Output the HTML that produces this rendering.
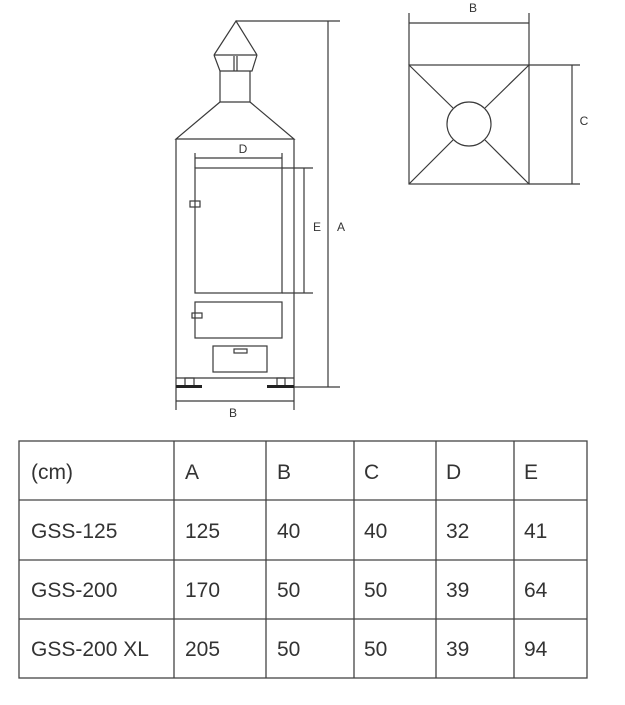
<!DOCTYPE html>
<html><head><meta charset="utf-8"><style>
html,body{margin:0;padding:0;background:#fff;width:625px;height:705px;overflow:hidden}
svg{display:block}
text{font-family:"Liberation Sans",sans-serif;fill:#333}
</style></head><body>
<svg width="625" height="705" viewBox="0 0 625 705" xmlns="http://www.w3.org/2000/svg">
<g stroke="#3a3a3a" stroke-width="1.2" fill="none">
<!-- chimney cap -->
<polyline points="214,55 236,21 257,55"/>
<line x1="214" y1="55" x2="257" y2="55"/>
<polyline points="214,55 220,71 252,71 257,55"/>
<line x1="234" y1="56" x2="234" y2="71"/><line x1="237" y1="56" x2="237" y2="71"/>
<line x1="220" y1="71" x2="220" y2="102"/><line x1="250" y1="71" x2="250" y2="102"/>
<line x1="220" y1="102" x2="250" y2="102"/>
<!-- hood -->
<polyline points="220,102 176,139 294,139 250,102"/>
<!-- body -->
<line x1="176" y1="139" x2="176" y2="410"/>
<line x1="294" y1="139" x2="294" y2="410"/>
<line x1="176" y1="378" x2="294" y2="378"/>
<!-- D dim -->
<line x1="195" y1="158" x2="282" y2="158"/>
<line x1="195" y1="153" x2="195" y2="168"/><line x1="282" y1="153" x2="282" y2="168"/>
<!-- door -->
<rect x="195" y="168" width="87" height="125"/>
<rect x="190" y="201" width="10" height="6"/>
<!-- E dim -->
<line x1="282" y1="168" x2="313" y2="168"/><line x1="282" y1="293" x2="313" y2="293"/>
<line x1="304" y1="168" x2="304" y2="293"/>
<!-- A dim -->
<line x1="236" y1="21" x2="340" y2="21"/>
<line x1="328" y1="21" x2="328" y2="387"/>
<line x1="294" y1="387" x2="340" y2="387"/>
<!-- lower door -->
<rect x="195" y="302" width="87" height="36"/>
<rect x="192" y="313" width="10" height="5"/>
<!-- drawer -->
<rect x="213" y="346" width="54" height="26"/>
<rect x="234" y="349" width="13" height="4"/>
<!-- legs -->
<rect x="185" y="378" width="9" height="8"/>
<rect x="277" y="378" width="8" height="8"/>
<!-- B dim -->
<line x1="176" y1="401" x2="294" y2="401"/>
<!-- top view -->
<line x1="409" y1="13" x2="409" y2="65"/><line x1="529" y1="13" x2="529" y2="65"/>
<line x1="409" y1="23" x2="529" y2="23"/>
<rect x="409" y="65" width="120" height="119"/>
<circle cx="469" cy="124" r="22"/>
<line x1="409" y1="65" x2="453" y2="108"/><line x1="529" y1="65" x2="485" y2="108"/>
<line x1="409" y1="184" x2="453" y2="140"/><line x1="529" y1="184" x2="485" y2="140"/>
<line x1="529" y1="65" x2="580" y2="65"/><line x1="529" y1="184" x2="580" y2="184"/>
<line x1="572" y1="65" x2="572" y2="184"/>
</g>
<rect x="176" y="385" width="26" height="3" fill="#222"/>
<rect x="267" y="385" width="27" height="3" fill="#222"/>
<g font-size="12">
<text x="243" y="153" text-anchor="middle">D</text>
<text x="317" y="231" text-anchor="middle">E</text>
<text x="341" y="231" text-anchor="middle">A</text>
<text x="233" y="417" text-anchor="middle">B</text>
<text x="473" y="12" text-anchor="middle">B</text>
<text x="584" y="125" text-anchor="middle">C</text>
</g>
<!-- table -->
<g stroke="#444" stroke-width="1.3">
<rect x="19" y="441" width="568" height="237" fill="none"/>
<line x1="19" y1="500" x2="587" y2="500"/>
<line x1="19" y1="560" x2="587" y2="560"/>
<line x1="19" y1="619" x2="587" y2="619"/>
<line x1="174" y1="441" x2="174" y2="678"/>
<line x1="266" y1="441" x2="266" y2="678"/>
<line x1="354" y1="441" x2="354" y2="678"/>
<line x1="436" y1="441" x2="436" y2="678"/>
<line x1="514" y1="441" x2="514" y2="678"/>
</g>
<g font-size="21">
<text x="31" y="479">(cm)</text><text x="185" y="479">A</text><text x="277" y="479">B</text><text x="364" y="479">C</text><text x="446" y="479">D</text><text x="524" y="479">E</text>
<text x="31" y="538">GSS-125</text><text x="185" y="538">125</text><text x="277" y="538">40</text><text x="364" y="538">40</text><text x="446" y="538">32</text><text x="524" y="538">41</text>
<text x="31" y="597">GSS-200</text><text x="185" y="597">170</text><text x="277" y="597">50</text><text x="364" y="597">50</text><text x="446" y="597">39</text><text x="524" y="597">64</text>
<text x="31" y="656">GSS-200 XL</text><text x="185" y="656">205</text><text x="277" y="656">50</text><text x="364" y="656">50</text><text x="446" y="656">39</text><text x="524" y="656">94</text>
</g>
</svg>
</body></html>
